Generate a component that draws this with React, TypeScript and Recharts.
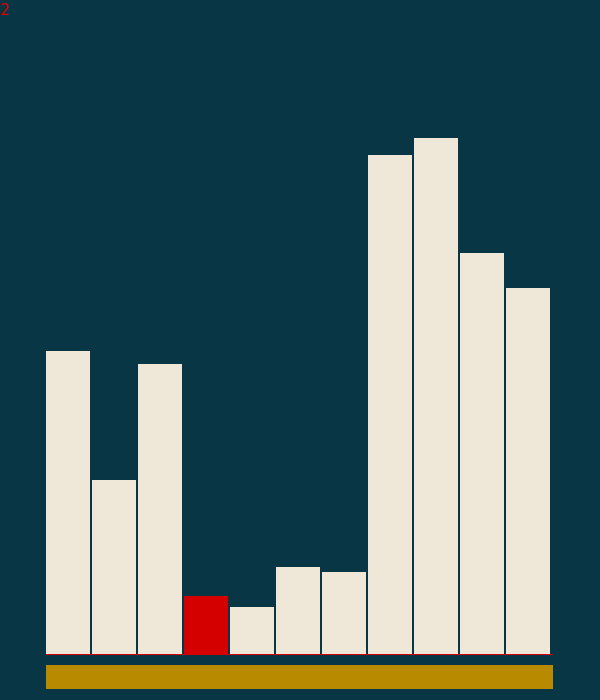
import { BarChart, Bar, XAxis, YAxis, Brush, Cell } from 'recharts';

const categories = ['A', 'B', 'C', 'D', 'E', 'F', 'G', 'H', 'I', 'J', 'K'];
const values = [303, 174, 290, 58, 47, 87, 82, 499, 516, 401, 366];
const highlightIndex = 3;
const cornerLabel = '2';

const data = categories.map((name, i) => ({ name, value: values[i] }));

const BG = '#083645';
const CREAM = '#efe7d7';
const RED = '#d40000';
const GOLD = '#b88a00';

export default function App() {
  return (
    <div style={{ position: 'absolute', left: 0, top: 0, width: 600, height: 700, background: BG }}>
      <svg width={40} height={20} style={{ position: 'absolute', left: 0, top: 0 }}>
        <text x={0} y={15} fill={RED} fontFamily="DejaVu Sans, sans-serif" fontSize={15}>
          {cornerLabel}
        </text>
      </svg>
      <BarChart
        width={600}
        height={700}
        data={data}
        margin={{ top: 54, right: 47, left: 46, bottom: 11 }}
        barCategoryGap={1}
      >
        <XAxis
          dataKey="name"
          tick={false}
          tickLine={false}
          height={11}
          padding={{ left: -1, right: 2 }}
          axisLine={{ stroke: RED, strokeWidth: 1, transform: 'translate(0, 0.5)' }}
        />
        <YAxis hide domain={[0, 600]} />
        <Bar dataKey="value" isAnimationActive={false}>
          {data.map((d, i) => (
            <Cell key={d.name} fill={i === highlightIndex ? RED : CREAM} />
          ))}
        </Bar>
        <Brush
          dataKey="name"
          height={24}
          fill={GOLD}
          stroke="none"
          travellerWidth={0}
          traveller={() => <g />}
        />
      </BarChart>
    </div>
  );
}
